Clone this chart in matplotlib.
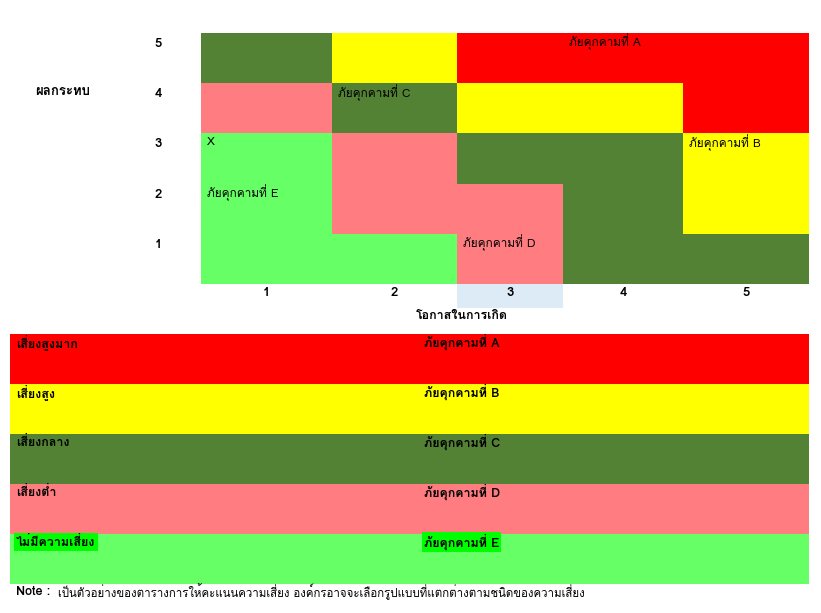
import matplotlib
matplotlib.use("Agg")
import matplotlib.pyplot as plt
from matplotlib.colors import ListedColormap
import numpy as np

plt.rcParams['font.family'] = ['Loma', 'DejaVu Sans']

# risk levels: 0 none, 1 low, 2 medium, 3 high, 4 very high
level_colors = ['#66FF66', '#FF7C80', '#548235', '#FFFF00', '#FF0000']
level_names = ['ไม่มีความเสี่ยง', 'เสี่ยงต่ำ', 'เสี่ยงกลาง', 'เสี่ยงสูง', 'เสี่ยงสูงมาก']
threat_names = ['ภัยคุกคามที่ E', 'ภัยคุกคามที่ D', 'ภัยคุกคามที่ C', 'ภัยคุกคามที่ B', 'ภัยคุกคามที่ A']

likelihood = [1, 2, 3, 4, 5]
impact = [1, 2, 3, 4, 5]
# rows = impact 1..5, cols = likelihood 1..5
risk_matrix = [
    [0, 0, 1, 2, 2],
    [0, 1, 1, 2, 3],
    [0, 1, 2, 2, 3],
    [1, 2, 3, 3, 4],
    [2, 3, 4, 4, 4],
]

# threats placed in the matrix: (label, likelihood, impact)
threat_label = ['ภัยคุกคามที่ A', 'ภัยคุกคามที่ B', 'ภัยคุกคามที่ C', 'ภัยคุกคามที่ D', 'ภัยคุกคามที่ E', 'X']
threat_like = [4, 5, 2, 3, 1, 1]
threat_imp = [5, 3, 4, 1, 2, 3]
highlight_col = 3

W, H = 821, 613
fig = plt.figure(figsize=(W / 100, H / 100), dpi=100)
cmap = ListedColormap(level_colors)

# ---- matrix ----
col_w = np.array([131, 125, 106, 120, 126])  # column widths in px (layout)
x_edges = np.concatenate([[0], np.cumsum(col_w)])
x_cent = (x_edges[:-1] + x_edges[1:]) / 2
y_edges = np.arange(0.5, 6.0, 1.0)

left, right, top, bottom = 201, 809, 33, 284
ax = fig.add_axes([left / W, 1 - bottom / H, (right - left) / W, (bottom - top) / H])
ax.pcolormesh(x_edges, y_edges, np.array(risk_matrix), cmap=cmap, vmin=-0.5, vmax=4.5)
ax.set_xlim(x_edges[0], x_edges[-1])
ax.set_ylim(0.5, 5.5)
for s in ax.spines.values():
    s.set_visible(False)

ax.set_xticks(x_cent)
ax.set_xticklabels([str(v) for v in likelihood], fontweight='bold', fontsize=9.5)
ax.set_yticks(np.array(impact) + 0.5 - 0.19)
ax.set_yticklabels([str(v) for v in impact], fontweight='bold', fontsize=9.5)
ax.tick_params(axis='both', length=0)
ax.tick_params(axis='x', pad=2)
ax.tick_params(axis='y', pad=28)

# light blue cell under likelihood 3
ax.bar(x_cent[highlight_col - 1], -0.48, width=col_w[highlight_col - 1], bottom=0.5,
       color='#DDEBF7', clip_on=False, zorder=0)

for lab, lk, im in zip(threat_label, threat_like, threat_imp):
    ax.text(x_edges[lk - 1] + 6, im + 0.5 - 0.18, lab, fontsize=8.5, va='center', ha='left')

fig.text(35 / W, 1 - 92 / H, 'ผลกระทบ', fontsize=9.5, fontweight='bold', va='center', ha='left')
fig.text(462 / W, 1 - 316 / H, 'โอกาสในการเกิด', fontsize=9, fontweight='bold', va='center', ha='center')

# ---- legend table ----
lx0, lx1, ly0, ly1 = 10, 809, 334, 584
lax = fig.add_axes([lx0 / W, 1 - ly1 / H, (lx1 - lx0) / W, (ly1 - ly0) / H])
levels = np.arange(5)
lax.barh(levels, 1, height=1, left=0, color=[level_colors[l] for l in levels])
lax.set_xlim(0, 1)
lax.set_ylim(-0.5, 4.5)
lax.axis('off')
for l in levels:
    box = dict(facecolor='#00FF00', edgecolor='none', pad=1.5) if l == 0 else None
    lax.text(6 / (lx1 - lx0), l + 0.5 - 0.16, level_names[l], fontsize=9, fontweight='bold',
             va='center', ha='left', bbox=box)
    lax.text((424 - lx0) / (lx1 - lx0), l + 0.5 - 0.16, threat_names[l], fontsize=9,
             fontweight='bold', va='center', ha='left', bbox=box)

fig.text(16 / W, 1 - 592 / H, 'Note :', fontsize=9, fontweight='bold', va='center', ha='left')
fig.text(58 / W, 1 - 592 / H, 'เป็นตัวอย่างของตารางการให้คะแนนความเสี่ยง องค์กรอาจจะเลือกรูปแบบที่แตกต่างตามชนิดของความเสี่ยง',
         fontsize=8.25, va='center', ha='left')

fig.savefig('out.png', dpi=100)
